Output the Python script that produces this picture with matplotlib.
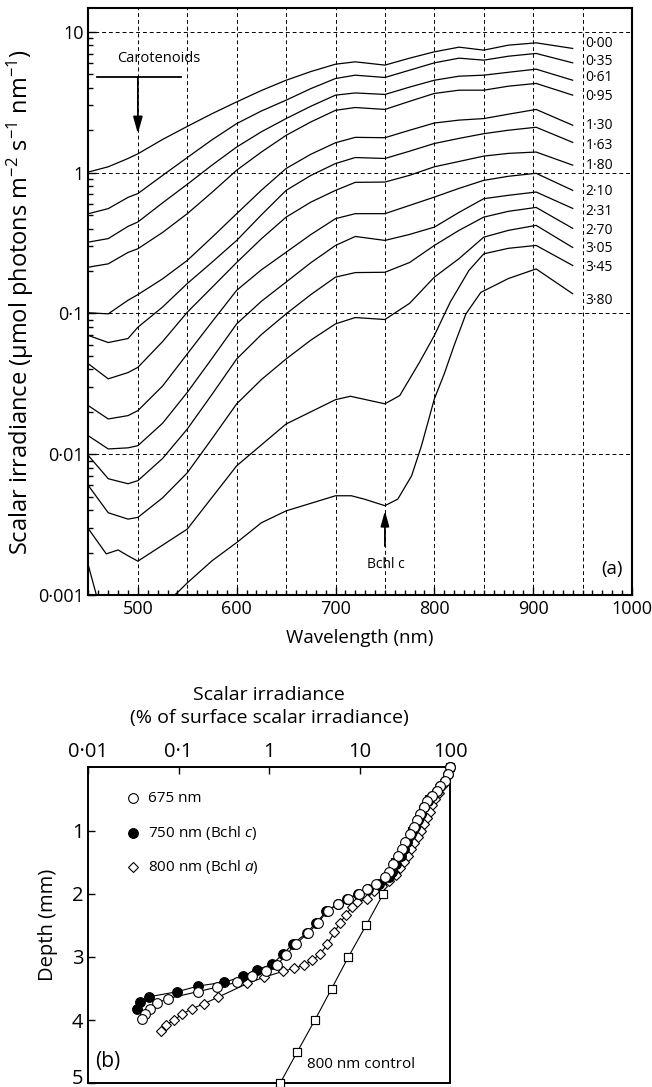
import matplotlib
matplotlib.use('Agg')
import matplotlib.pyplot as plt
from matplotlib.transforms import ScaledTranslation
from matplotlib.ticker import FixedLocator, LogLocator, MultipleLocator, NullFormatter, NullLocator

plt.rcParams['font.family'] = ['Open Sans', 'DejaVu Sans']
plt.rcParams['mathtext.fontset'] = 'custom'
plt.rcParams['mathtext.rm'] = 'Open Sans'
plt.rcParams['mathtext.it'] = 'Open Sans:italic'
plt.rcParams['mathtext.default'] = 'regular'

# ---- panel (a): spectral scalar irradiance at depth (mm) ----
wl = [450, 470, 490, 500, 525, 550, 575, 600, 625, 650, 675, 700, 720, 750, 775, 800, 825, 850, 875, 903, 940]
E_000 = [1.01, 1.10, 1.26, 1.36, 1.72, 2.13, 2.62, 3.18, 3.83, 4.53, 5.22, 5.89, 6.12, 5.80, 6.50, 7.21, 7.78, 7.41, 8.04, 8.35, 7.62]
E_035 = [0.511, 0.555, 0.667, 0.710, 0.955, 1.28, 1.71, 2.23, 2.74, 3.27, 3.95, 4.66, 4.92, 4.74, 5.34, 6.02, 6.50, 6.29, 6.71, 7.02, 6.02]
E_061 = [0.321, 0.340, 0.415, 0.446, 0.610, 0.826, 1.13, 1.52, 1.95, 2.42, 2.96, 3.55, 3.68, 3.59, 4.05, 4.53, 4.84, 4.92, 5.16, 5.43, 4.53]
E_095 = [0.213, 0.225, 0.271, 0.288, 0.376, 0.511, 0.724, 1.04, 1.40, 1.84, 2.29, 2.77, 2.90, 2.81, 3.21, 3.65, 3.85, 3.85, 4.11, 4.30, 3.55]
E_130 = [0.101, 0.0993, 0.124, 0.136, 0.176, 0.238, 0.347, 0.511, 0.750, 1.07, 1.35, 1.63, 1.78, 1.77, 2.00, 2.25, 2.36, 2.42, 2.60, 2.81, 2.17]
E_163 = [0.0697, 0.0621, 0.0663, 0.0798, 0.111, 0.163, 0.231, 0.330, 0.501, 0.748, 0.955, 1.16, 1.28, 1.26, 1.42, 1.61, 1.75, 1.89, 2.00, 2.10, 1.64]
E_180 = [0.0438, 0.0343, 0.0380, 0.0414, 0.0631, 0.102, 0.153, 0.230, 0.339, 0.483, 0.617, 0.748, 0.853, 0.857, 0.957, 1.10, 1.20, 1.31, 1.37, 1.40, 1.13]
E_210 = [0.0221, 0.0178, 0.0188, 0.0204, 0.0305, 0.0516, 0.0871, 0.146, 0.204, 0.272, 0.363, 0.471, 0.511, 0.511, 0.585, 0.670, 0.773, 0.881, 0.942, 0.989, 0.748]
E_231 = [0.0135, 0.0109, 0.0111, 0.0115, 0.0166, 0.0275, 0.0479, 0.0843, 0.122, 0.167, 0.229, 0.304, 0.352, 0.330, 0.364, 0.410, 0.522, 0.653, 0.690, 0.728, 0.557]
E_270 = [0.00976, 0.00670, 0.00617, 0.00649, 0.00933, 0.0151, 0.0266, 0.0475, 0.0708, 0.0993, 0.136, 0.181, 0.195, 0.196, 0.230, 0.304, 0.389, 0.483, 0.531, 0.566, 0.402]
E_305 = [0.00597, 0.00384, 0.00346, 0.00356, 0.0049, 0.00738, 0.0129, 0.0228, 0.0339, 0.0475, 0.0646, 0.0843, 0.0935, 0.0905, 0.118, 0.181, 0.245, 0.348, 0.389, 0.422, 0.294]

wl_345 = [450, 468, 480, 490, 500, 550, 600, 650, 700, 715, 750, 765, 785, 800, 816, 835, 850, 875, 903, 940]
E_345 = [0.00295, 0.00196, 0.00209, 0.00190, 0.00174, 0.00294, 0.00828, 0.0164, 0.0244, 0.0258, 0.0228,
         0.0261, 0.0450, 0.0697, 0.120, 0.202, 0.265, 0.290, 0.304, 0.219]

wl_380 = [450, 458, 465, 525, 540, 550, 575, 600, 625, 650, 700, 716, 729, 750, 763, 777, 787, 800, 810,
          820, 832, 847, 875, 903, 940]
E_380 = [0.00161, 0.00100, 0.00070, 0.00085, 0.00104, 0.00122, 0.00175, 0.00236, 0.00326, 0.00396, 0.00507,
         0.00507, 0.00480, 0.00431, 0.00480, 0.00703, 0.0115, 0.0247, 0.0372, 0.0592, 0.0993, 0.141, 0.177,
         0.207, 0.138]

depth_labels = ['0·00', '0·35', '0·61', '0·95', '1·30', '1·63', '1·80', '2·10', '2·31', '2·70', '3·05', '3·45', '3·80']
label_y = [8.27, 6.19, 4.76, 3.49, 2.17, 1.56, 1.13, 0.737, 0.531, 0.389, 0.289, 0.212, 0.124]

# ---- panel (b): scalar irradiance (% of surface) vs depth ----
depth_675 = [0.0, 0.10, 0.21, 0.29, 0.37, 0.45, 0.53, 0.63, 0.74, 0.84, 0.95, 1.05, 1.18, 1.29, 1.40, 1.53,
             1.66, 1.74, 1.84, 1.92, 2.00, 2.08, 2.16, 2.27, 2.46, 2.62, 2.79, 2.97, 3.13, 3.22, 3.31, 3.40,
             3.48, 3.55, 3.66, 3.73, 3.82, 3.90, 3.99]
irr_675 = [100, 95.3, 87.6, 77.3, 71.2, 62.9, 55.5, 51.3, 47.1, 43.3, 39.6, 36.0, 31.8, 29.3, 26.9, 23.7,
           20.9, 19.1, 15.2, 12.0, 9.8, 7.52, 5.83, 4.45, 3.45, 2.72, 1.98, 1.54, 1.21, 0.917, 0.652, 0.445,
           0.263, 0.162, 0.0755, 0.058, 0.048, 0.0424, 0.039]

depth_750 = [0.0, 0.10, 0.21, 0.29, 0.37, 0.45, 0.53, 0.63, 0.74, 0.84, 0.95, 1.05, 1.18, 1.29, 1.40, 1.53,
             1.66, 1.74, 1.84, 1.92, 2.00, 2.08, 2.16, 2.28, 2.46, 2.62, 2.79, 2.96, 3.12, 3.20, 3.31, 3.40,
             3.46, 3.55, 3.63, 3.71, 3.82]
irr_750 = [100, 96, 88, 78, 72, 64, 57, 52, 48, 44, 40.5, 37, 33.5, 31, 28.5, 25.5,
           23, 21, 16.5, 12.5, 9.6, 7.3, 5.7, 4.3, 3.3, 2.6, 1.85, 1.41, 1.07, 0.740, 0.519, 0.317,
           0.165, 0.0966, 0.0473, 0.0373, 0.0343]

depth_800 = [0.0, 0.1, 0.2, 0.3, 0.4, 0.5, 0.6, 0.7, 0.8, 0.9, 1.0, 1.1, 1.2, 1.3, 1.4, 1.5, 1.6, 1.7, 1.8,
             1.88, 1.95, 2.08, 2.13, 2.21, 2.34, 2.47, 2.61, 2.80, 2.96, 3.05, 3.13, 3.18, 3.23, 3.32, 3.42,
             3.64, 3.74, 3.82, 3.90, 4.00, 4.08, 4.17]
irr_800 = [100, 94, 88, 81, 75, 69, 64, 60, 56, 52, 48, 44, 40, 37, 34, 31, 28, 25, 21,
           17.5, 14.3, 12.2, 9.3, 8.2, 7.0, 6.04, 5.26, 4.4, 3.66, 3.0, 2.45, 1.88, 1.41, 0.885, 0.574,
           0.270, 0.190, 0.141, 0.110, 0.0894, 0.0718, 0.0637]

depth_ctl = [0.0, 0.5, 1.0, 1.5, 2.0, 2.5, 3.0, 3.5, 4.0, 4.5, 5.0]
irr_ctl = [100, 58, 38, 24.5, 18.3, 11.8, 7.52, 4.92, 3.2, 2.05, 1.32]

fig = plt.figure(figsize=(6.52, 10.87), dpi=100)

# ================= (a) =================
ax1 = fig.add_axes([0.1357, 0.4526, 0.8336, 0.540])
series = [(wl, E_000), (wl, E_035), (wl, E_061), (wl, E_095), (wl, E_130), (wl, E_163), (wl, E_180),
          (wl, E_210), (wl, E_231), (wl, E_270), (wl, E_305), (wl_345, E_345), (wl_380, E_380)]
for x, y in series:
    ax1.plot(x, y, color='black', lw=0.9, zorder=3)

ax1.set_yscale('log')
ax1.set_xlim(450, 1000)
ax1.set_ylim(0.001, 14.75)

# dashed grid
for g in range(500, 1000, 50):
    ax1.axvline(g, color='black', lw=0.7, ls=(0, (4, 3)), zorder=1)
for g in [0.01, 0.1, 1, 10]:
    ax1.axhline(g, color='black', lw=0.7, ls=(0, (4, 3)), zorder=1)

ax1.xaxis.set_major_locator(FixedLocator([500, 600, 700, 800, 900, 1000]))
ax1.xaxis.set_minor_locator(MultipleLocator(10))
ax1.set_yticks([0.001, 0.01, 0.1, 1, 10])
ax1.set_yticklabels(['0·001', '0·01', '0·1', '1', '10'])
ax1.yaxis.set_minor_locator(LogLocator(base=10, subs=range(2, 10)))
ax1.yaxis.set_minor_formatter(NullFormatter())
ax1.tick_params(which='both', direction='in', top=False, right=False, labelsize=13)
ax1.tick_params(which='major', length=6, width=1)
ax1.tick_params(which='minor', length=3.5, width=1)
for s in ax1.spines.values():
    s.set_linewidth(1.5)

ax1.set_xlabel('Wavelength (nm)', fontsize=13.5, labelpad=8)
ax1.set_ylabel('Scalar irradiance (μmol photons m$^{-2}$ s$^{-1}$ nm$^{-1}$)', fontsize=17)
ax1.yaxis.set_label_coords(-0.097, 0.5)

for lab, yy in zip(depth_labels, label_y):
    ax1.text(953, yy, lab, fontsize=10, va='center', ha='left')

# carotenoids marker
ax1.text(521, 6.5, 'Carotenoids', fontsize=10.5, ha='center', va='center')
ax1.plot([459, 544], [4.79, 4.79], color='black', lw=1.3)
ax1.annotate('', xy=(500, 1.89), xytext=(500, 4.79),
             arrowprops=dict(arrowstyle='-|>,head_length=1.0,head_width=0.28', color='black', lw=1.3,
                             shrinkA=0, shrinkB=0))
# Bchl c marker
ax1.annotate('', xy=(750, 0.00396), xytext=(750, 0.00223),
             arrowprops=dict(arrowstyle='-|>,head_length=0.9,head_width=0.25', color='black', lw=1.3,
                             shrinkA=0, shrinkB=0))
ax1.text(751, 0.00166, 'Bchl c', fontsize=10, ha='center', va='center')
ax1.text(980, 0.00153, '(a)', fontsize=13.5, ha='center', va='center')

# ================= (b) =================
ax2 = fig.add_axes([0.1354, 0.0034, 0.5548, 0.2907])
ax2.plot(irr_ctl, depth_ctl, color='black', lw=0.8, marker='s', ms=6, mfc='white', mec='black', mew=0.8,
         zorder=2, clip_on=False)
ax2.plot(irr_800, depth_800, color='black', lw=0.8, marker='D', ms=5, mfc='white', mec='black', mew=0.8,
         zorder=3, clip_on=False)
ax2.plot(irr_750, depth_750, color='black', lw=0.8, marker='o', ms=7, mfc='black', mec='black', mew=0.8,
         zorder=4, clip_on=False)
ax2.plot(irr_675, depth_675, color='black', lw=0.8, marker='o', ms=7, mfc='white', mec='black', mew=0.8,
         zorder=5, clip_on=False)
ax2.plot(irr_ctl[4:], depth_ctl[4:], color='black', lw=0, marker='s', ms=6, mfc='white', mec='black',
         mew=0.8, zorder=6, clip_on=False)

ax2.set_xscale('log')
ax2.set_xlim(0.01, 100)
ax2.set_ylim(5, 0)
ax2.xaxis.tick_top()
ax2.xaxis.set_label_position('top')
ax2.set_xticks([0.01, 0.1, 1, 10, 100])
ax2.set_xticklabels(['0·01', '0·1', '1', '10', '100'])
ax2.xaxis.set_minor_locator(NullLocator())
ax2.set_yticks([1, 2, 3, 4, 5])
ax2.set_yticklabels(['1', '2', '3', '4', '5'])
ax2.tick_params(which='both', direction='in', bottom=False, right=False, labelsize=14.5, length=5, width=1)
for s in ax2.spines.values():
    s.set_linewidth(1.4)
ax2.set_xlabel('Scalar irradiance\n(% of surface scalar irradiance)', fontsize=14, labelpad=14,
               linespacing=1.35)
ax2.set_ylabel('Depth (mm)', fontsize=14.5, labelpad=10)

# nudge the bottom "5" up so it stays inside the figure
lab5 = ax2.get_yticklabels()[-1]
lab5.set_transform(lab5.get_transform() + ScaledTranslation(0, 5 / 72, fig.dpi_scale_trans))

# legend drawn by hand
leg = [('o', 'white', '675 nm', 7),
       ('o', 'black', '750 nm (Bchl $\\mathit{c}$)', 7),
       ('D', 'white', '800 nm (Bchl $\\mathit{a}$)', 5)]
for i, (mk, fc, txt, ms) in enumerate(leg):
    yy = 0.902 - i * 0.1085
    ax2.plot([0.124], [yy], marker=mk, ms=ms, mfc=fc, mec='black', mew=0.8, transform=ax2.transAxes)
    ax2.text(0.165, yy, txt, fontsize=11, va='center', ha='left', transform=ax2.transAxes)

ax2.text(2.6, 4.71, '800 nm control', fontsize=11, va='center', ha='left')
ax2.text(0.018, 0.07, '(b)', fontsize=15, va='center', ha='left', transform=ax2.transAxes)

fig.savefig('out.png', dpi=100)
